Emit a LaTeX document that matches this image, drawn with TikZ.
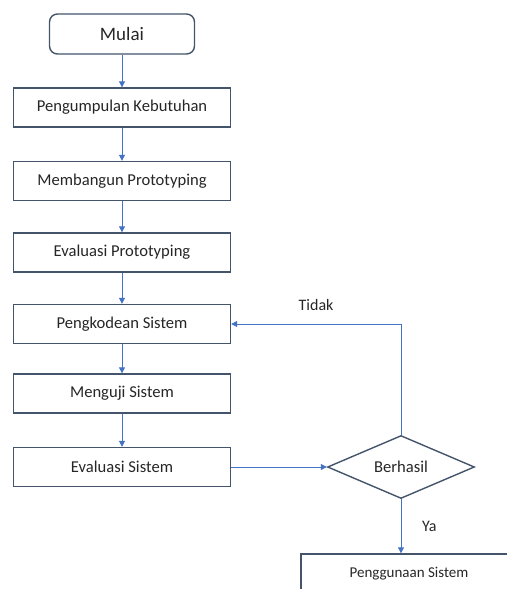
\documentclass[tikz,border=0pt]{standalone}
\usepackage{fontspec}
\setmainfont{Carlito}
\usetikzlibrary{arrows.meta,shapes.geometric}
\definecolor{boxline}{RGB}{68,84,106}
\definecolor{arrowblue}{RGB}{68,114,196}
\definecolor{textgray}{RGB}{38,38,38}
\begin{document}
\begin{tikzpicture}
[x=0.5pt,y=-0.5pt,
  boxdecorate/.style={shape=rectangle,draw=boxline,line width=0.7pt,minimum width=108.5pt,minimum height=19.5pt,inner sep=0pt,font=\fontsize{8.3}{10}\selectfont,text=textgray},%
  startdecorate/.style={boxdecorate,rounded corners=4pt,minimum width=72.5pt,minimum height=20pt,font=\fontsize{9.5}{11}\selectfont},%
  decisiondecorate/.style={shape=diamond,draw=boxline,line width=0.7pt,aspect=2.33,minimum width=73.5pt,minimum height=31.5pt,inner sep=0pt,font=\fontsize{8.3}{10}\selectfont,text=textgray},%
  linedecorate/.style={-{Triangle[length=3pt,width=3pt]},draw=arrowblue,line width=0.5pt},%
  labeldecorate/.style={font=\fontsize{8}{10}\selectfont,text=textgray}]
\useasboundingbox (0,0) rectangle (507,589);
%% nodes or boxes
\node (mulai) at (122,34) [startdecorate] {Mulai};
\foreach \nodename/\y/\boxtext in {kebutuhan/107.5/Pengumpulan Kebutuhan,
  prototipe/181/Membangun Prototyping, evalproto/252.5/Evaluasi Prototyping,
  kode/324/Pengkodean Sistem, uji/393.5/Menguji Sistem, evalsistem/467/Evaluasi Sistem}
{
  \node (\nodename) at (122,\y) [boxdecorate] {\boxtext};
}
\node (berhasil) at (401,467) [decisiondecorate] {Berhasil};
\node (penggunaan) at (409,573.5) [boxdecorate,minimum width=108pt,font=\fontsize{7.5}{9}\selectfont] {Penggunaan Sistem};
%% edges or lines
\path
\foreach \startnode/\endnode in {mulai/kebutuhan, kebutuhan/prototipe, prototipe/evalproto,
  evalproto/kode, kode/uji, uji/evalsistem, evalsistem/berhasil} {
  (\startnode) edge[linedecorate] (\endnode)
};
\draw[linedecorate] (berhasil.north) |- (kode.east)
  node[pos=0.75,above=3pt,labeldecorate] {Tidak};
\draw[linedecorate] (berhasil.south) -- (penggunaan.north -| berhasil.south)
  node[midway,right=7pt,labeldecorate] {Ya};
\end{tikzpicture}
\end{document}
